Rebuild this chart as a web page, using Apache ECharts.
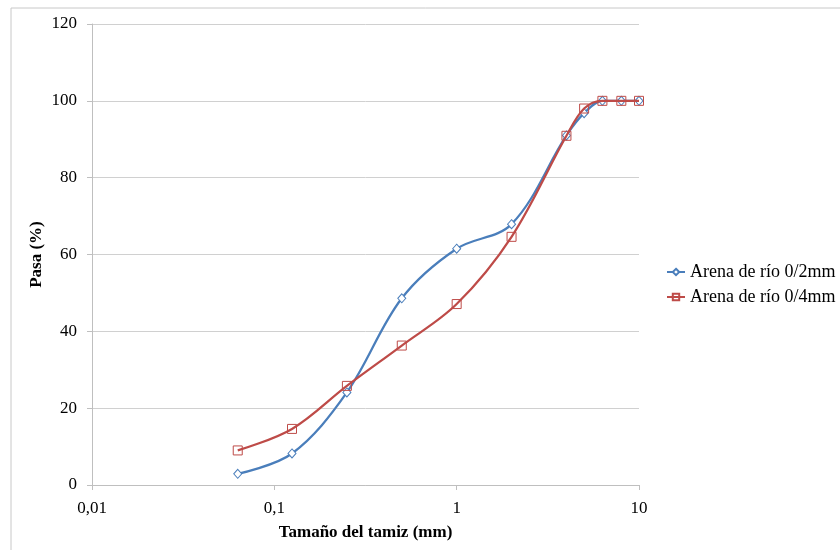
<!DOCTYPE html>
<html>
<head>
<meta charset="utf-8">
<script src="https://cdn.jsdelivr.net/npm/echarts@6/dist/echarts.min.js"></script>
<style>html,body{margin:0;padding:0;background:#fff}#c{width:840px;height:550px}</style>
</head>
<body>
<div id="c"></div>
<script>
var sieveSizes = [0.063, 0.125, 0.25, 0.5, 1, 2, 4, 5, 6.3, 8, 10];
var arena02 = [2.9, 8.2, 24.1, 48.6, 61.5, 67.9, 91, 96.8, 100, 100, 100];
var arena04 = [9.0, 14.6, 25.8, 36.3, 47.1, 64.6, 90.9, 98, 100, 100, 100];
var seriesNames = ['Arena de río 0/2mm', 'Arena de río 0/4mm'];
var xTickLabels = {0.01: '0,01', 0.1: '0,1', 1: '1', 10: '10'};

function pairs(xs, ys) { return xs.map(function (x, i) { return [x, ys[i]]; }); }

var font = '"Liberation Serif", "Times New Roman", serif';
var chart = echarts.init(document.getElementById('c'), null, {renderer: 'canvas'});
chart.setOption({
  animation: false,
  backgroundColor: '#fff',
  graphic: [
    {type: 'line', shape: {x1: 11, y1: 8, x2: 840, y2: 8}, style: {stroke: '#c8c8c8', lineWidth: 1}},
    {type: 'line', shape: {x1: 11, y1: 8, x2: 11, y2: 550}, style: {stroke: '#c8c8c8', lineWidth: 1}}
  ],
  grid: {left: 92, right: 201, top: 24, bottom: 65},
  legend: {
    orient: 'vertical',
    left: 661, top: 258,
    itemWidth: 18, itemHeight: 8, itemGap: 7,
    textStyle: {fontFamily: font, fontSize: 18, color: '#000'},
    data: seriesNames
  },
  xAxis: {
    type: 'log', logBase: 10, min: 0.01, max: 10,
    name: 'Tamaño del tamiz (mm)', nameLocation: 'middle', nameGap: 39, nameMoveOverlap: false,
    nameTextStyle: {fontFamily: font, fontSize: 17, fontWeight: 'bold', color: '#000'},
    axisLine: {show: true, lineStyle: {color: '#bfbfbf'}},
    axisTick: {show: true, length: 5, lineStyle: {color: '#bfbfbf'}},
    minorTick: {show: false},
    splitLine: {show: false},
    axisLabel: {fontFamily: font, fontSize: 17, color: '#000', margin: 15,
      formatter: function (v) { var k = +v.toPrecision(3); return xTickLabels[k] !== undefined ? xTickLabels[k] : ''; }}
  },
  yAxis: {
    type: 'value', min: 0, max: 120, interval: 20,
    name: 'Pasa (%)', nameLocation: 'middle', nameGap: 47, nameRotate: 90, nameMoveOverlap: false,
    nameTextStyle: {fontFamily: font, fontSize: 17, fontWeight: 'bold', color: '#000'},
    axisLine: {show: true, lineStyle: {color: '#bfbfbf'}},
    axisTick: {show: true, length: 5, inside: false, lineStyle: {color: '#bfbfbf'}},
    splitLine: {show: true, lineStyle: {color: '#d0d0d0', width: 1}},
    axisLabel: {fontFamily: font, fontSize: 17, color: '#000', margin: 15}
  },
  series: [
    {
      name: seriesNames[0], type: 'line', smooth: 0.35,
      data: pairs(sieveSizes, arena02),
      symbol: 'diamond', symbolSize: [8, 9],
      lineStyle: {color: '#4a7ebb', width: 2.25},
      itemStyle: {color: '#ffffff', borderColor: '#4a7ebb', borderWidth: 1},
      z: 2
    },
    {
      name: seriesNames[1], type: 'line', smooth: 0.35,
      data: pairs(sieveSizes, arena04),
      symbol: 'rect', symbolSize: 9,
      lineStyle: {color: '#be4b48', width: 2.25},
      itemStyle: {color: 'rgba(255,255,255,0)', borderColor: '#be4b48', borderWidth: 1},
      z: 3
    }
  ]
});
</script>
</body>
</html>
